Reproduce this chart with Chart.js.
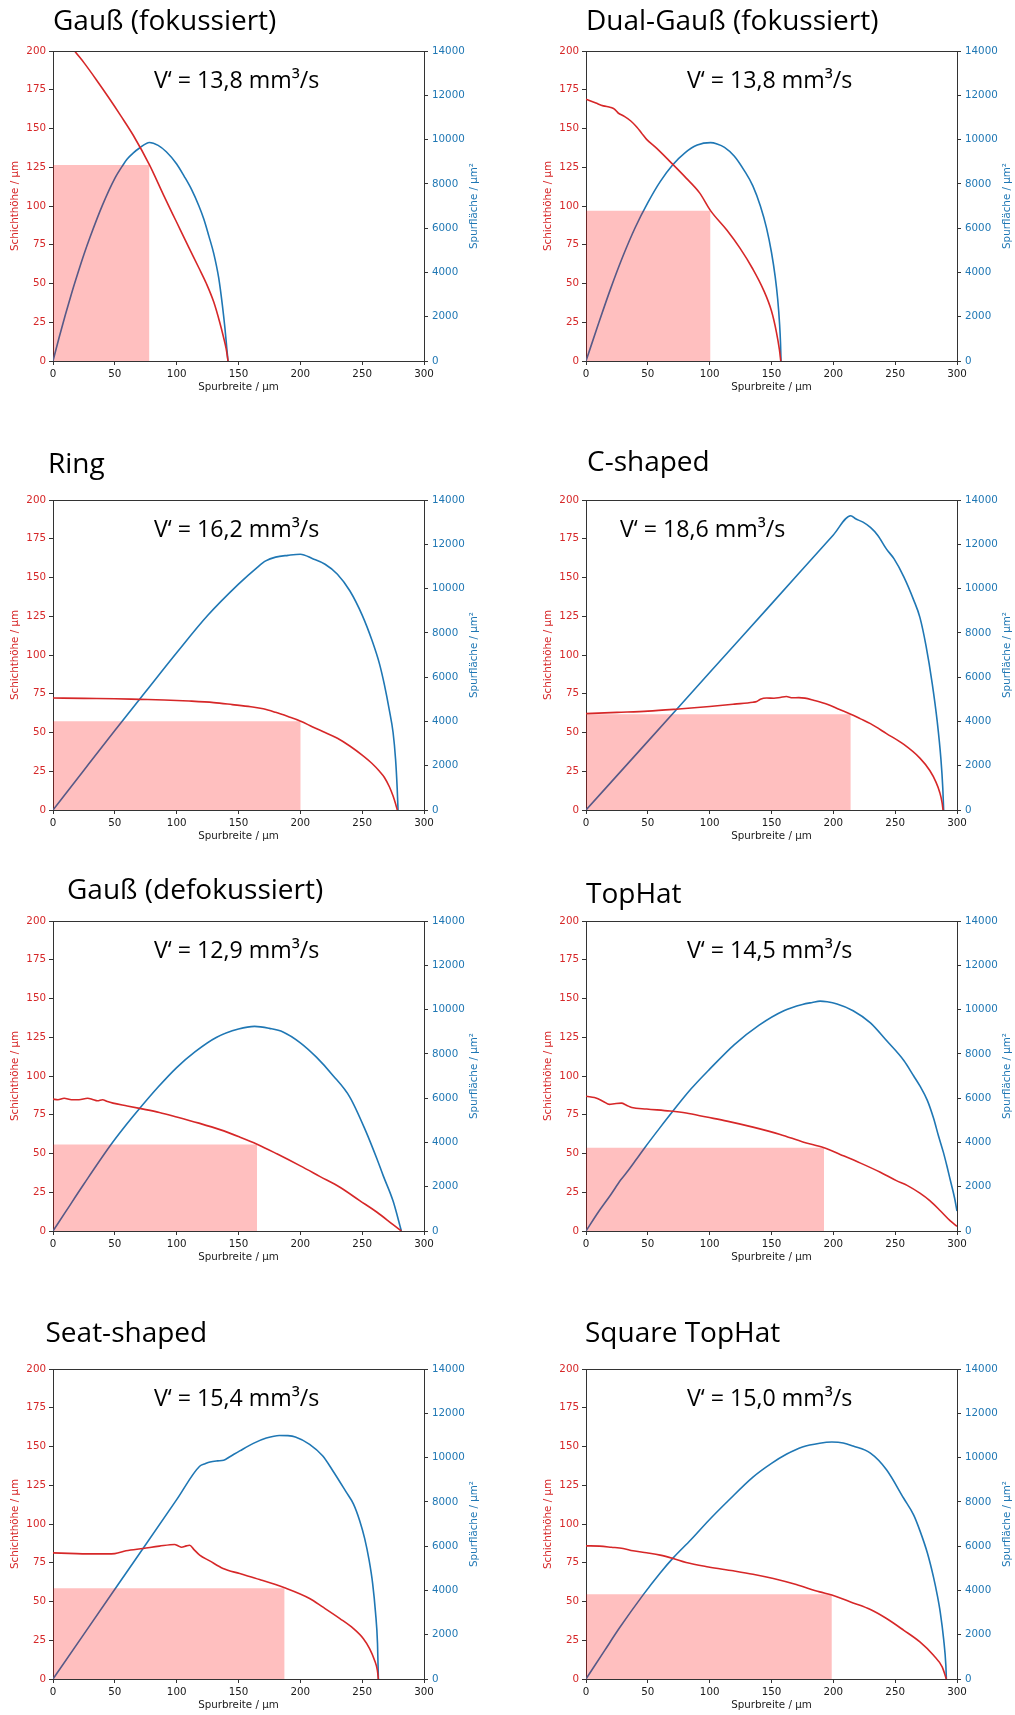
<!DOCTYPE html>
<html>
<head>
<meta charset="utf-8">
<script src="https://cdn.jsdelivr.net/npm/chart.js@4.4.1/dist/chart.umd.min.js"></script>
<style>
  html, body { margin: 0; padding: 0; background: #fff; width: 1015px; height: 1715px; overflow: hidden; }
  canvas { position: absolute; }
</style>
</head>
<body>
<script>
// ---- Tick values ----
const widthTicks  = [0, 50, 100, 150, 200, 250, 300];
const heightTicks = [0, 25, 50, 75, 100, 125, 150, 175, 200];
const areaTicks   = [0, 2000, 4000, 6000, 8000, 10000, 12000, 14000];

// ---- Profile names and volume rates (mm³/s) ----
const profileNames = ['Gauß (fokussiert)', 'Dual-Gauß (fokussiert)', 'Ring', 'C-shaped',
                      'Gauß (defokussiert)', 'TopHat', 'Seat-shaped', 'Square TopHat'];
const volumeRates = ['13,8', '13,8', '16,2', '18,6', '12,9', '14,5', '15,4', '15,0'];

// ---- Gauß (fokussiert) ----
const gaussFocX  = [0, 10, 17.5, 25, 35, 45, 55, 65, 78, 90, 100, 110, 118, 124, 130, 134.8, 138, 140, 141, 141.5];
const gaussFocH  = [219, 208.5, 200, 192.5, 181.5, 170, 158, 145.5, 126.5, 106, 89.5, 73, 60, 50, 38, 25, 15, 8, 3, 0];
const gaussFocAx = [0, 5, 10, 15, 20, 25, 30, 40, 50, 56.6, 60, 65, 70, 78, 85, 91.6, 100, 106, 112, 118, 122, 126, 130, 134, 137, 139, 140.5, 141.5];
const gaussFocA  = [0, 1070, 2085, 3050, 3950, 4810, 5600, 7040, 8250, 8850, 9120, 9400, 9620, 9870, 9740, 9450, 8900, 8350, 7750, 7000, 6400, 5650, 4850, 3750, 2500, 1500, 600, 0];
const gaussFocRect = [78, 126.5];

// ---- Dual-Gauß (fokussiert) ----
const dualFocX  = [0, 8, 14, 20, 23, 26, 31, 36, 41, 45, 49, 57, 68, 81, 92, 100.7, 114, 124.5, 135, 143.5, 150, 154, 156.4, 157.5];
const dualFocH  = [168.9, 166.4, 164.6, 163.6, 162.5, 160, 157.8, 155, 151, 147, 143, 137.3, 128.6, 118, 108.3, 97, 84.3, 72.8, 59.2, 45.9, 32.2, 18.5, 7.3, 0];
const dualFocAx = [0, 10, 20, 30, 40, 50, 60, 70, 80, 90, 100.7, 106, 112, 120, 128, 135, 141, 146, 150, 153, 155, 156.5, 157.3, 157.7];
const dualFocA  = [0, 1670, 3280, 4750, 6050, 7150, 8100, 8850, 9400, 9750, 9860, 9800, 9650, 9250, 8600, 7900, 7000, 6000, 4900, 3800, 2800, 1700, 800, 0];
const dualFocRect = [100.7, 97];

// ---- Ring ----
const ringX  = [0, 25, 50, 70, 90, 110, 130, 145, 160, 170, 180, 190, 200.3, 210, 220, 230, 240, 250, 258, 264, 268, 272, 275, 277, 278.4];
const ringH  = [72.3, 72, 71.8, 71.4, 71, 70.3, 69.3, 68, 66.6, 65.3, 63, 60.3, 57.3, 53.6, 50, 46.3, 41.3, 35.4, 30, 25, 21, 15, 9, 4, 0];
const ringAx = [0, 25, 50, 75, 100, 125, 150, 165, 172, 180, 190, 200, 210, 220, 230, 240, 250, 258, 264, 268, 272, 275, 277, 278.3, 279];
const ringA  = [0, 1800, 3590, 5350, 7100, 8780, 10200, 10950, 11250, 11420, 11500, 11550, 11350, 11100, 10650, 9900, 8800, 7650, 6600, 5650, 4500, 3500, 2300, 1000, 0];
const ringRect = [200.3, 57.3];

// ---- C-shaped ----
const cShapeX  = [0, 25, 50, 75, 100, 120, 135, 138, 141, 146, 152, 157, 162, 167, 172, 177, 184, 195, 205, 214.1, 222, 230, 243, 257, 270, 278, 283, 286, 288, 288.7];
const cShapeH  = [62.2, 63, 63.8, 65.2, 66.8, 68.3, 69.5, 70, 71.5, 72.3, 72.1, 72.6, 73.2, 72.4, 72.5, 72.2, 70.8, 68.2, 64.8, 61.8, 58.8, 55.7, 49.3, 42.3, 33.5, 25.5, 18, 11.5, 4.5, 0];
const cShapeAx = [0, 50, 100, 150, 200, 214.1, 218, 224, 230, 236, 243, 249, 257, 265, 270, 275, 280, 284, 287, 288.5, 289.2];
const cShapeA  = [0, 3100, 6210, 9310, 12420, 13290, 13150, 13000, 12760, 12400, 11780, 11350, 10530, 9480, 8700, 7400, 5700, 4000, 2300, 1000, 0];
const cShapeRect = [214.1, 61.8];

// ---- Gauß (defokussiert) ----
const gaussDefX  = [0, 4, 9, 15, 21, 28, 32, 36, 40, 44, 48.5, 60, 70, 86, 100, 118, 135, 151, 165, 181, 200, 216, 232, 248, 262, 275, 281.7];
const gaussDefH  = [85.1, 84.7, 85.6, 84.7, 84.7, 85.6, 84.9, 84, 84.7, 83.5, 82.5, 80.7, 79.1, 76.5, 73.6, 69.6, 65.4, 60.6, 56, 49.8, 42, 35.1, 28.2, 19.6, 12.1, 4.1, 0];
const gaussDefAx = [0, 10, 25, 46.5, 60, 70, 85, 100, 115, 132, 150, 163, 175, 186, 200, 213, 226, 240, 253, 262, 267, 275, 281.7];
const gaussDefA  = [0, 850, 2120, 3870, 4850, 5530, 6500, 7380, 8100, 8740, 9120, 9240, 9150, 8990, 8500, 7850, 7050, 6050, 4500, 3250, 2500, 1350, 0];
const gaussDefRect = [165, 55.8];

// ---- TopHat ----
const topHatX  = [0, 4, 8, 14, 19, 23, 28.6, 33, 37, 49, 68, 81, 97.5, 114, 135, 157, 176, 192.5, 205.5, 222, 238, 251, 260, 270, 278, 286.5, 294.6, 300];
const topHatH  = [86.9, 86.4, 85.8, 83.6, 81.7, 82.1, 82.5, 81, 79.7, 78.7, 77.4, 76.1, 73.5, 70.9, 67, 62.3, 57.3, 53.7, 49.4, 43.8, 37.9, 32.5, 29.3, 24.4, 19.6, 13.1, 6.5, 3];
const topHatAx = [0, 10, 20, 28, 33, 40, 47.5, 60, 70.5, 85, 100, 120, 140, 160, 175, 183, 189.3, 195, 203, 216, 230, 243, 257, 265, 270, 276, 281, 285, 289, 292, 295, 298, 300];
const topHatA  = [0, 860, 1640, 2300, 2650, 3180, 3760, 4680, 5430, 6420, 7310, 8420, 9300, 9950, 10230, 10320, 10380, 10350, 10250, 9950, 9400, 8600, 7700, 7000, 6550, 5900, 5100, 4300, 3550, 2900, 2200, 1500, 900];
const topHatRect = [192.5, 53.7];

// ---- Seat-shaped ----
const seatX  = [0, 19, 35, 50, 59, 73, 86, 98.4, 101, 104, 107.8, 110.5, 114, 118.6, 126.7, 137.5, 151, 167, 187.3, 207.5, 218, 232, 243, 251, 256, 260, 262.3, 263.1];
const seatH  = [81.4, 80.9, 80.7, 80.9, 82.7, 84.2, 85.7, 86.8, 86, 85, 85.9, 86.3, 83.5, 79.9, 76.2, 71.3, 68, 64.2, 58.8, 51.9, 46.5, 39, 32.5, 26, 19.6, 12.1, 5.6, 0];
const seatAx = [0, 50, 100, 118.6, 123, 127, 133, 138, 143, 151, 162, 172.5, 183, 190, 196, 207.5, 218, 226, 237, 243, 248, 252, 255.5, 258.5, 260.8, 262.4, 263.1];
const seatA  = [0, 4050, 8100, 9610, 9720, 9800, 9850, 9880, 10040, 10300, 10640, 10880, 11000, 10990, 10930, 10600, 10080, 9430, 8450, 7900, 7150, 6350, 5400, 4300, 3000, 1600, 0];
const seatRect = [187.3, 58.6];

// ---- Square TopHat ----
const squareX  = [0, 11, 20.5, 30, 38, 49, 60, 70.5, 81, 99, 119, 135, 151.5, 170, 189, 198.8, 216, 230, 243, 257, 270, 281, 288, 291.4];
const squareH  = [85.9, 85.7, 85, 84.2, 82.7, 81.4, 79.9, 77.7, 75.1, 72.3, 69.8, 67.6, 64.8, 60.9, 56.2, 54.2, 49.1, 44.8, 39, 31.4, 23.9, 15.3, 7.8, 0];
const squareAx = [0, 15, 27, 46.2, 60, 70.5, 85, 99, 115, 135, 150, 162, 175, 189, 198.8, 208, 216, 230, 243, 257, 265, 270, 276, 281, 284, 286.5, 289.2, 291, 291.4];
const squareA  = [0, 1280, 2300, 3800, 4790, 5470, 6300, 7150, 8050, 9120, 9740, 10150, 10480, 10650, 10700, 10660, 10520, 10200, 9450, 8150, 7400, 6700, 5700, 4600, 3800, 3000, 1800, 600, 0];
const squareRect = [198.8, 54.7];

const profiles = [
  { x: gaussFocX, h: gaussFocH, ax: gaussFocAx, a: gaussFocA, rect: gaussFocRect },
  { x: dualFocX,  h: dualFocH,  ax: dualFocAx,  a: dualFocA,  rect: dualFocRect },
  { x: ringX,     h: ringH,     ax: ringAx,     a: ringA,     rect: ringRect },
  { x: cShapeX,   h: cShapeH,   ax: cShapeAx,   a: cShapeA,   rect: cShapeRect },
  { x: gaussDefX, h: gaussDefH, ax: gaussDefAx, a: gaussDefA, rect: gaussDefRect },
  { x: topHatX,   h: topHatH,   ax: topHatAx,   a: topHatA,   rect: topHatRect },
  { x: seatX,     h: seatH,     ax: seatAx,     a: seatA,     rect: seatRect },
  { x: squareX,   h: squareH,   ax: squareAx,   a: squareA,   rect: squareRect },
];

// ---- Page layout: canvas placement and text offsets relative to the plot area ----
const slots = [
  { left: 0,   top: 1,    titleDx: 0,    titleDy: -21,   rateDx: 101 },
  { left: 533, top: 1,    titleDx: 0,    titleDy: -21,   rateDx: 101 },
  { left: 0,   top: 450,  titleDx: -5,   titleDy: -26.7, rateDx: 101 },
  { left: 533, top: 450,  titleDx: 1,    titleDy: -29,   rateDx: 34 },
  { left: 0,   top: 871,  titleDx: 14,   titleDy: -22,   rateDx: 101 },
  { left: 533, top: 871,  titleDx: 0,    titleDy: -17.7, rateDx: 101 },
  { left: 0,   top: 1319, titleDx: -7.5, titleDy: -27.3, rateDx: 101 },
  { left: 533, top: 1319, titleDx: -1,   titleDy: -27.3, rateDx: 101 },
];

const AXIS = '#333333';
const RED = '#d62728';
const BLUE = '#1f77b4';
const TICK_FONT = { family: 'DejaVu Sans', size: 10.3 };
const LEFT_W = 53, RIGHT_W = 65, BOTTOM_H = 45, TOP_PAD = 50;
const PLOT_W = 371, PLOT_H = 310;

Chart.defaults.font.family = 'DejaVu Sans';

// Draws the top spine, panel title, rate label and right-hand axis title
const panelText = {
  id: 'panelText',
  afterDraw(chart, args, opts) {
    const { ctx, chartArea: a } = chart;
    ctx.save();
    ctx.strokeStyle = AXIS;
    ctx.lineWidth = 1;
    ctx.beginPath();
    const ty = Math.round(a.top) + 0.5;
    ctx.moveTo(a.left, ty);
    ctx.lineTo(a.right, ty);
    ctx.stroke();

    ctx.fillStyle = '#000';
    ctx.textAlign = 'left';
    ctx.textBaseline = 'alphabetic';
    ctx.font = '28px "Open Sans"';
    ctx.fillText(opts.title, a.left + opts.titleDx, a.top + opts.titleDy);
    ctx.font = '23.2px "Open Sans"';
    ctx.fillText('V\u2018 = ' + opts.rate + ' mm³/s', a.left + opts.rateDx, a.top + 36.7);

    ctx.translate(a.right + 50, (a.top + a.bottom) / 2);
    ctx.rotate(-Math.PI / 2);
    ctx.fillStyle = BLUE;
    ctx.font = '10.3px "DejaVu Sans"';
    ctx.textAlign = 'center';
    ctx.textBaseline = 'middle';
    ctx.fillText('Spurfläche / µm²', 0, 0);
    ctx.restore();
  }
};

function pts(xs, ys) { return xs.map((x, i) => ({ x: x, y: ys[i] })); }
function fixedTicks(values) { return s => { s.ticks = values.map(v => ({ value: v })); }; }

profiles.forEach((p, i) => {
  const slot = slots[i];
  const cv = document.createElement('canvas');
  cv.width = LEFT_W + PLOT_W + RIGHT_W;
  cv.height = TOP_PAD + PLOT_H + BOTTOM_H;
  cv.style.left = slot.left + 'px';
  cv.style.top = slot.top + 'px';
  cv.style.width = cv.width + 'px';
  cv.style.height = cv.height + 'px';
  document.body.appendChild(cv);

  const gridOpts = { drawOnChartArea: false, drawTicks: true, tickLength: 4, color: AXIS, lineWidth: 1 };
  const borderOpts = { display: true, color: AXIS, width: 1 };

  new Chart(cv, {
    type: 'scatter',
    data: {
      datasets: [
        {
          label: 'Schichthöhe',
          data: pts(p.x, p.h),
          yAxisID: 'y',
          showLine: true,
          borderColor: RED,
          borderWidth: 1.6,
          pointRadius: 0,
          cubicInterpolationMode: 'monotone',
          order: 1
        },
        {
          label: 'Rechteck',
          data: [{ x: 0, y: p.rect[1] }, { x: p.rect[0], y: p.rect[1] }],
          yAxisID: 'y',
          showLine: true,
          borderColor: 'rgba(0,0,0,0)',
          borderWidth: 0,
          backgroundColor: 'rgba(255,0,0,0.25)',
          fill: 'origin',
          pointRadius: 0,
          order: 2
        },
        {
          label: 'Spurfläche',
          data: pts(p.ax, p.a),
          yAxisID: 'y1',
          showLine: true,
          borderColor: BLUE,
          borderWidth: 1.6,
          pointRadius: 0,
          cubicInterpolationMode: 'monotone',
          order: 3
        }
      ]
    },
    options: {
      responsive: false,
      animation: false,
      devicePixelRatio: 1,
      events: [],
      layout: { padding: { top: TOP_PAD, left: 0, right: 0, bottom: 0 } },
      plugins: {
        legend: { display: false },
        tooltip: { enabled: false },
        panelText: { title: profileNames[i], rate: volumeRates[i], titleDx: slot.titleDx, titleDy: slot.titleDy, rateDx: slot.rateDx }
      },
      scales: {
        x: {
          type: 'linear', position: 'bottom', min: 0, max: 300,
          afterFit: s => { s.height = BOTTOM_H; },
          afterBuildTicks: fixedTicks(widthTicks),
          grid: gridOpts, border: borderOpts,
          ticks: { color: '#1a1a1a', padding: 3, maxRotation: 0, autoSkip: false, font: TICK_FONT, callback: v => String(v) },
          title: { display: true, text: 'Spurbreite / µm', color: '#1a1a1a', font: TICK_FONT, padding: { top: 0, bottom: 12 } }
        },
        y: {
          type: 'linear', position: 'left', min: 0, max: 200,
          afterFit: s => { s.width = LEFT_W; },
          afterBuildTicks: fixedTicks(heightTicks),
          grid: gridOpts, border: borderOpts,
          ticks: { color: RED, padding: 3, autoSkip: false, font: TICK_FONT, callback: v => String(v) },
          title: { display: true, text: 'Schichthöhe / µm', color: RED, font: TICK_FONT, padding: { top: 9, bottom: 0 } }
        },
        y1: {
          type: 'linear', position: 'right', min: 0, max: 14000,
          afterFit: s => { s.width = RIGHT_W; },
          afterBuildTicks: fixedTicks(areaTicks),
          grid: gridOpts, border: borderOpts,
          ticks: { color: BLUE, padding: 4, autoSkip: false, font: TICK_FONT, callback: v => String(v) },
          title: { display: false }
        }
      }
    },
    plugins: [panelText]
  });
});
</script>
</body>
</html>
